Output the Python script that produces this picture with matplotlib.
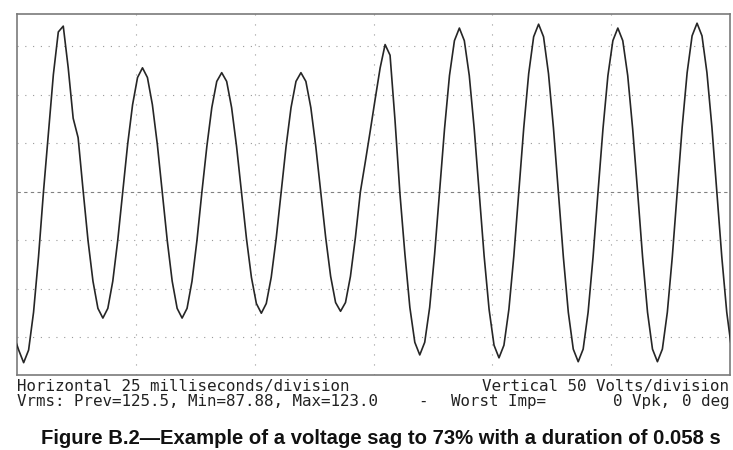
import numpy as np
import matplotlib.pyplot as plt

# ─── DATA ────────────────────────────────────────────────────────────────────

SAMPLE_MS = 1000 / 960      # 16 samples per 60 Hz cycle
START_MS = -0.684           # time of the first sample

# volts, one row per half cycle
volts = [
    -148, -163, -176, -163, -124, -67,          # T1
    0, 60, 121, 165, 171, 128, 76, 56,          # P1 (sag starts on the way down)
    2, -50, -92, -120, -130, -120, -92, -50,    # T2
    0, 49, 90, 118, 128, 118, 90, 49,           # P2
    0, -50, -92, -120, -130, -120, -92, -50,    # T3
    0, 47, 87, 114, 123, 114, 87, 47,           # P3
    0, -48, -88, -115, -125, -115, -88, -48,    # T4
    0, 47, 87, 114, 123, 114, 87, 47,           # P4
    0, -47, -87, -114, -123, -114, -87, -47,    # T5
    0, 31, 63, 96, 128, 152, 141, 74,           # P5 (recovery)
    -2, -64, -119, -155, -168, -155, -119, -64, # T6
    0, 65, 120, 156, 169, 156, 120, 65,         # P6
    0, -66, -121, -158, -171, -158, -121, -66,  # T7
    0, 66, 122, 160, 173, 160, 122, 66,         # P7
    0, -67, -124, -162, -175, -162, -124, -67,  # T8
    0, 65, 120, 156, 169, 156, 120, 65,         # P8
    0, -67, -124, -162, -175, -162, -124, -67,  # T9
    0, 67, 123, 161, 174, 161, 123, 67,         # P9
    0, -67, -124, -163,                         # T10
]

h_grid_volts = [-150, -100, -50, 50, 100, 150]
v_grid_ms = [25, 50, 75, 100, 125]

x_range_ms = (0, 150)
y_range_volts = (-188.7, 183.5)

line1_left = "Horizontal 25 milliseconds/division"
line1_right = "Vertical 50 Volts/division"
line2_parts = [
    ("Vrms: Prev=125.5, Min=87.88, Max=123.0", 17),
    ("-", 418),
    ("Worst Imp=", 451),
    ("0 Vpk,", 613),
]
line2_right = "0 deg"
caption = "Figure B.2\u2014Example of a voltage sag to 73% with a duration of 0.058 s"

# ─── FIGURE ──────────────────────────────────────────────────────────────────

W, H = 733, 450
fig = plt.figure(figsize=(W / 100, H / 100), dpi=100)
fig.patch.set_facecolor("white")

ax = fig.add_axes([17 / W, 1 - 375 / H, 713 / W, 361 / H])

t = START_MS + np.arange(len(volts)) * SAMPLE_MS

grid_col = "#999999"
for v in h_grid_volts:
    ax.axhline(v, color=grid_col, lw=0.8, ls=(0, (1, 6)), zorder=1)
ax.axhline(0, color="#808080", lw=0.8, ls=(0, (3, 3)), zorder=1)
for m in v_grid_ms:
    ax.axvline(m, color=grid_col, lw=0.8, ls=(0, (1, 8)), zorder=1)

ax.plot(t, volts, color="#262626", lw=1.2, zorder=3)

ax.set_xlim(*x_range_ms)
ax.set_ylim(*y_range_volts)
ax.set_xticks([])
ax.set_yticks([])
for sp in ax.spines.values():
    sp.set_color("#7a7a7a")
    sp.set_linewidth(1.2)

# ─── TEXT BELOW THE SCREEN ───────────────────────────────────────────────────

mono = dict(family="DejaVu Sans Mono", fontsize=11.45, color="#222222", va="baseline")

def fx(px):
    return px / W

def fy(py):
    return 1 - py / H

fig.text(fx(17), fy(391), line1_left, ha="left", **mono)
fig.text(fx(729), fy(391), line1_right, ha="right", **mono)
for txt, xp in line2_parts:
    fig.text(fx(xp), fy(406), txt, ha="left", **mono)
fig.text(fx(729), fy(406), line2_right, ha="right", **mono)

fig.text(fx(380.5), fy(444), caption, ha="center", va="baseline",
         family="Liberation Sans", fontweight="bold", fontsize=14.6, color="#111111")

fig.savefig("out.png", dpi=100)
